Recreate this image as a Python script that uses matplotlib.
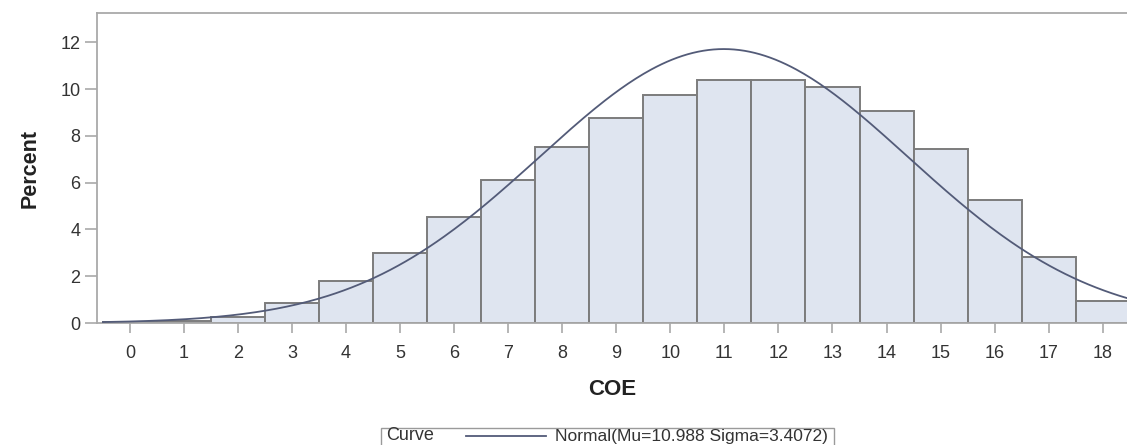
import numpy as np
import matplotlib.pyplot as plt
from matplotlib.lines import Line2D
from matplotlib.patches import Rectangle

plt.rcParams['font.family'] = ['Liberation Sans', 'DejaVu Sans']

coe = np.arange(0, 19)
percent = [0.05, 0.1, 0.27, 0.87, 1.79, 3.01, 4.51, 6.10, 7.52, 8.75,
           9.75, 10.40, 10.40, 10.08, 9.08, 7.42, 5.25, 2.80, 0.94]
mu = 10.988
sigma = 3.4072

W, H = 1127, 445
fig = plt.figure(figsize=(W / 100, H / 100), dpi=100)
ax = fig.add_axes([97 / W, 122 / H, 1 - 97 / W, 310 / H])

ax.bar(coe, percent, width=1.0, color='#dfe5f0', edgecolor='#7c7c7c', linewidth=1.4, zorder=2)

# fitted normal curve, scaled to percent per unit bin
xs = np.linspace(-0.5, 18.6, 400)
ys = 100 * np.exp(-0.5 * ((xs - mu) / sigma) ** 2) / (sigma * np.sqrt(2 * np.pi))
ax.plot(xs, ys, color='#535b78', linewidth=1.3, zorder=3)

ax.set_xlim(-0.61, 18.45)
ax.set_ylim(0, 13.25)
ax.set_xticks(coe)
ax.set_yticks([0, 2, 4, 6, 8, 10, 12])

ax.spines['right'].set_visible(False)
for s in ['top', 'left', 'bottom']:
    ax.spines[s].set_color('#a9a9a9')
    ax.spines[s].set_linewidth(1.3)

ax.tick_params(axis='both', colors='#a9a9a9', labelcolor='#333333', labelsize=13, width=1.2)
ax.tick_params(axis='y', length=9, pad=3)
ax.tick_params(axis='x', length=7, pad=9)

ax.set_xlabel('COE', fontsize=16, fontweight='bold', color='#222222', labelpad=12)
ax.set_ylabel('Percent', fontsize=15.5, fontweight='bold', color='#222222', labelpad=14)

# legend box at the bottom
fig.text(386 / W, 9 / H, 'Curve', fontsize=13, color='#333333', va='center')
fig.lines.append(Line2D([466 / W, 546 / W], [9.5 / H, 9.5 / H],
                        transform=fig.transFigure, color='#535b78', linewidth=1.3))
t = fig.text(555 / W, 9 / H, 'Normal(Mu=10.988 Sigma=3.4072)', fontsize=12.5,
             color='#333333', va='center')
fig.canvas.draw()
right = t.get_window_extent().x1 + 6
fig.patches.append(Rectangle((381 / W, -0.01), (right - 381) / W, 21.5 / H,
                             transform=fig.transFigure, facecolor='none',
                             edgecolor='#9a9a9a', linewidth=1.0))

fig.savefig('out.png', dpi=100)
